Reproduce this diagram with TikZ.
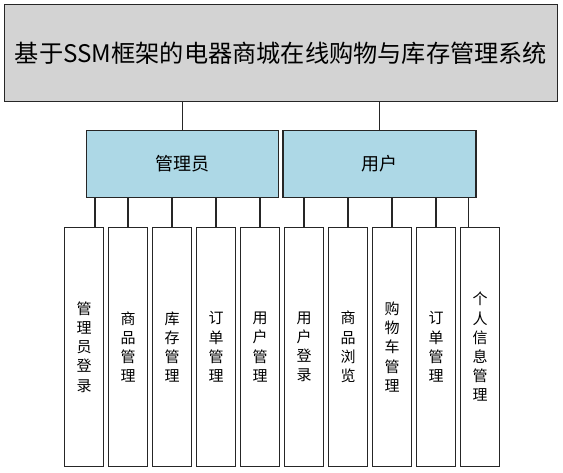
\documentclass[tikz,border=0pt]{standalone}
\usepackage{fontspec}
\setmainfont{Noto Sans CJK SC}
\definecolor{panelgray}{RGB}{211, 211, 211}
\definecolor{roleblue}{RGB}{173, 216, 230}
\definecolor{edgegray}{RGB}{38, 38, 38}

\begin{document}
\begin{tikzpicture}[x=1pt, y=-1pt,
        sysbox/.style={draw=edgegray, line width=1.1pt, fill=panelgray, inner sep=0pt,
                       minimum width=552.6pt, minimum height=96.6pt, font=\fontsize{24.2}{28}\selectfont},
        rolebox/.style={draw=edgegray, line width=1.1pt, fill=roleblue, inner sep=0pt,
                        minimum width=192pt, minimum height=66.6pt, font=\fontsize{18}{22}\selectfont},
        funcbox/.style={draw=edgegray, line width=1.1pt, fill=white, inner sep=0pt, align=center,
                        minimum width=38.6pt, minimum height=239.4pt, font=\fontsize{15}{19.2}\selectfont},
        link/.style={draw=edgegray, line width=1.1pt}]
            % Frame to ensure alignment:
            \fill[white] (0, 0) rectangle (563, 473);
            \useasboundingbox (0, 0) rectangle (563, 473);
            % System
            \node[sysbox]  (sys) at (281.0,  53.0) {基于SSM框架的电器商城在线购物与库存管理系统};
            % Roles
            \node[rolebox] (adm) at (182.7, 164.0) {管理员};
            \node[rolebox, minimum width=193pt] (usr) at (379.5, 164.0) {用户};
            % Admin functions
            \node[funcbox] (admlogin) at ( 84.0, 347.0) {管\\理\\员\\登\\录};
            \node[funcbox] (admgoods) at (128.0, 347.0) {商\\品\\管\\理};
            \node[funcbox] (admstock) at (172.0, 347.0) {库\\存\\管\\理};
            \node[funcbox] (admorder) at (216.0, 347.0) {订\\单\\管\\理};
            \node[funcbox] (admusers) at (260.0, 347.0) {用\\户\\管\\理};
            % User functions
            \node[funcbox] (usrlogin) at (304.0, 347.0) {用\\户\\登\\录};
            \node[funcbox] (usrbrows) at (348.0, 347.0) {商\\品\\浏\\览};
            \node[funcbox] (usrcart)  at (392.0, 347.0) {购\\物\\车\\管\\理};
            \node[funcbox] (usrorder) at (436.0, 347.0) {订\\单\\管\\理};
            \node[funcbox] (usrinfo)  at (480.0, 347.0) {个\\人\\信\\息\\管\\理};
            % System to roles
            \draw[link] (adm.north) -- (adm.north |- sys.south);
            \draw[link] (usr.north) -- (usr.north |- sys.south);
            % Admin to functions
            \draw[link] ([xshift=11pt]admlogin.north) -- ([xshift=11pt]admlogin.north |- adm.south);
            \draw[link] (admgoods.north) -- (admgoods.north |- adm.south);
            \draw[link] (admstock.north) -- (admstock.north |- adm.south);
            \draw[link] (admorder.north) -- (admorder.north |- adm.south);
            \draw[link] (admusers.north) -- (admusers.north |- adm.south);
            % User to functions
            \draw[link] (usrlogin.north) -- (usrlogin.north |- usr.south);
            \draw[link] (usrbrows.north) -- (usrbrows.north |- usr.south);
            \draw[link] (usrcart.north)  -- (usrcart.north  |- usr.south);
            \draw[link] (usrorder.north) -- (usrorder.north |- usr.south);
            \draw[link] ([xshift=-11.3pt]usrinfo.north) -- ([xshift=-11.3pt]usrinfo.north |- usr.south);
        \end{tikzpicture}
\end{document}
